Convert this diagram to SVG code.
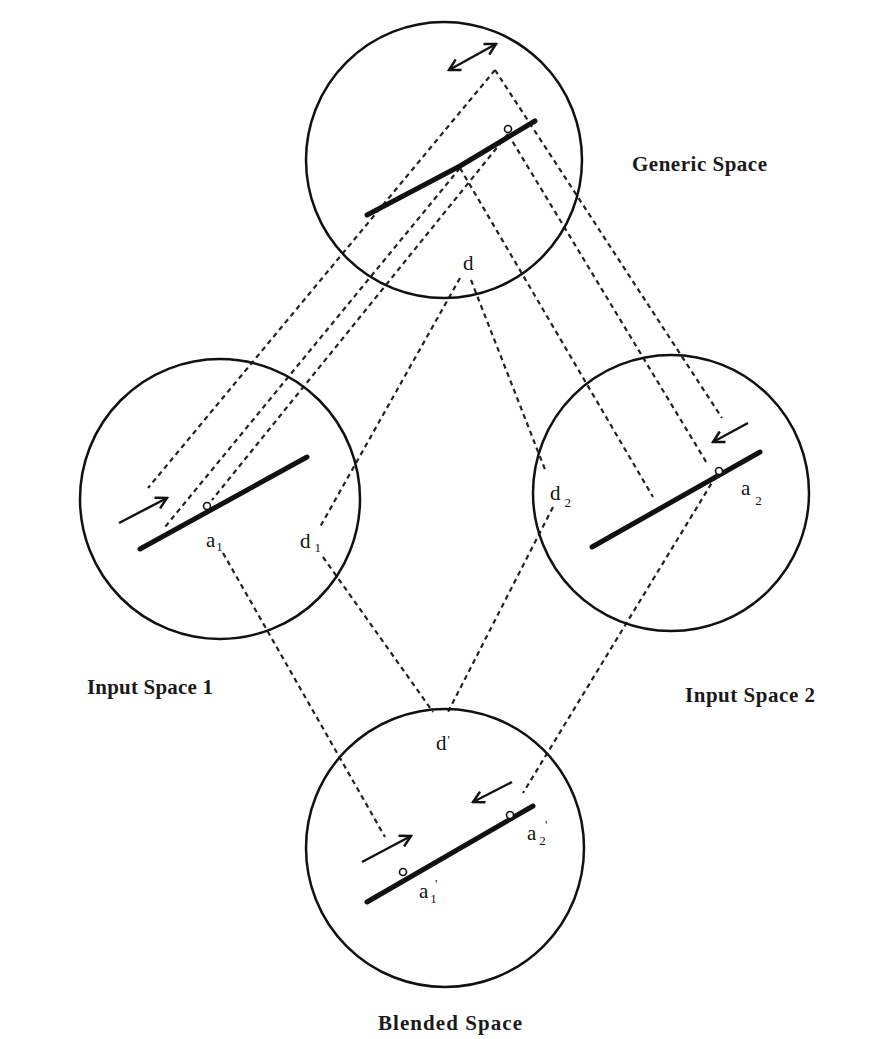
<svg xmlns="http://www.w3.org/2000/svg" width="869" height="1039" viewBox="0 0 869 1039">
<defs>
<style>
.space{fill:none;stroke:#111;stroke-width:2.5}
.path{fill:none;stroke:#111;stroke-width:5;stroke-linecap:round;stroke-linejoin:round}
.pt{fill:#fff;stroke:#111;stroke-width:1.6}
.arr{fill:none;stroke:#111;stroke-width:2.4;marker-end:url(#head)}
.dash{fill:none;stroke:#222;stroke-width:2.2;stroke-dasharray:5 4}
.lbl{font-family:"Liberation Serif",serif;font-size:21px;font-weight:bold;fill:#1a1a1a}
.var{font-family:"Liberation Serif",serif;font-size:21px;fill:#111}
.sub{font-family:"Liberation Serif",serif;font-size:13px;fill:#111}
</style>
<marker id="head" viewBox="0 0 14 14" refX="12" refY="7" markerWidth="14" markerHeight="14" markerUnits="userSpaceOnUse" orient="auto-start-reverse">
<path d="M1,1 L12,7 L1,13" fill="none" stroke="#111" stroke-width="2.5"/>
</marker>
</defs>
<rect width="869" height="1039" fill="#fff"/>

<g id="connectors">
<line class="dash" x1="495" y1="70" x2="148" y2="488"/>
<line class="dash" x1="460" y1="168" x2="165" y2="527"/>
<line class="dash" x1="508" y1="134" x2="212" y2="500"/>
<line class="dash" x1="495" y1="70" x2="722" y2="418"/>
<line class="dash" x1="508" y1="134" x2="708" y2="465"/>
<line class="dash" x1="460" y1="168" x2="653" y2="497"/>
<line class="dash" x1="460" y1="278" x2="320" y2="527"/>
<line class="dash" x1="471" y1="280" x2="546" y2="472"/>
<line class="dash" x1="323" y1="557" x2="433" y2="712"/>
<line class="dash" x1="553" y1="507" x2="448" y2="712"/>
<line class="dash" x1="223" y1="553" x2="385" y2="837"/>
<line class="dash" x1="716" y1="476" x2="523" y2="793"/>
</g>

<g id="generic-space">
<circle class="space" cx="444" cy="160" r="138"/>
<polyline class="path" points="367,215 460,166 535,121"/>
<circle class="pt" cx="508" cy="129" r="3.5"/>
<line class="arr" x1="449" y1="70" x2="496" y2="44" style="marker-start:url(#head)"/>
<text class="var" x="463" y="270">d</text>
<text class="lbl" x="632" y="171" textLength="135">Generic Space</text>
</g>

<g id="input-space-1">
<circle class="space" cx="220" cy="499" r="140"/>
<line class="path" x1="140" y1="549" x2="307" y2="457"/>
<circle class="pt" cx="207" cy="506" r="3.5"/>
<line class="arr" x1="119" y1="523" x2="167" y2="498"/>
<text class="var" x="206" y="547">a<tspan class="sub" dx="1" dy="4">1</tspan></text>
<text class="var" x="300" y="548">d<tspan class="sub" dx="4" dy="4">1</tspan></text>
<text class="lbl" x="87" y="694" textLength="126">Input Space 1</text>
</g>

<g id="input-space-2">
<circle class="space" cx="671" cy="493" r="138"/>
<line class="path" x1="592" y1="547" x2="760" y2="452"/>
<circle class="pt" cx="719" cy="471" r="3.5"/>
<line class="arr" x1="748" y1="423" x2="713" y2="442"/>
<text class="var" x="550" y="500">d<tspan class="sub" dx="4" dy="7">2</tspan></text>
<text class="var" x="741" y="495">a<tspan class="sub" dx="5" dy="10">2</tspan></text>
<text class="lbl" x="685" y="702" textLength="130">Input Space 2</text>
</g>

<g id="blended-space">
<circle class="space" cx="445" cy="848" r="139"/>
<line class="path" x1="367" y1="902" x2="533" y2="806"/>
<circle class="pt" cx="403" cy="872" r="3.5"/>
<circle class="pt" cx="510" cy="815" r="3.5"/>
<line class="arr" x1="362" y1="862" x2="411" y2="836"/>
<line class="arr" x1="512" y1="782" x2="473" y2="802"/>
<text class="var" x="436" y="750">d<tspan class="sub" dx="1" dy="-6">'</tspan></text>
<text class="var" x="419" y="898">a<tspan class="sub" dx="2" dy="5">1</tspan></text>
<text class="sub" x="435" y="888">'</text>
<text class="var" x="527" y="840">a<tspan class="sub" dx="3" dy="5">2</tspan></text>
<text class="sub" x="545" y="829">'</text>
<text class="lbl" x="378" y="1030" textLength="144">Blended Space</text>
</g>
</svg>
